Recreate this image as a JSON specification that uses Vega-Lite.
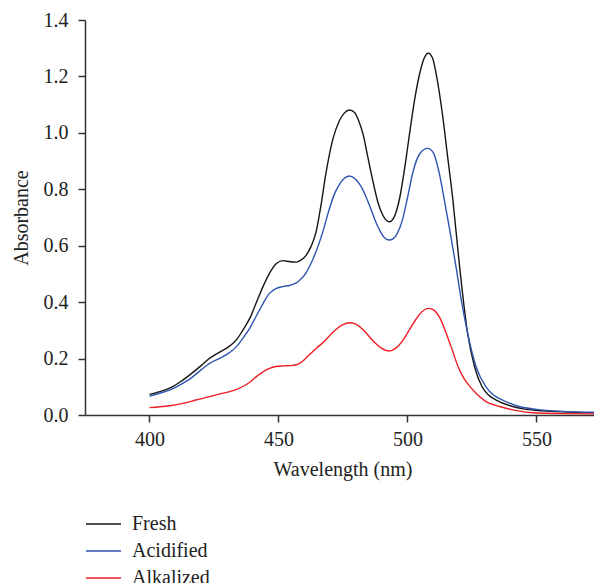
{
  "$schema": "https://vega.github.io/schema/vega-lite/v6.json",
  "width": 509,
  "height": 395,
  "autosize": "none",
  "padding": {"left": 85, "top": 20, "right": 0, "bottom": 168},
  "background": "white",
  "datasets": {
    "spectra": [
      {"s": "Fresh", "w": 400, "a": 0.073},
      {"s": "Fresh", "w": 404, "a": 0.083},
      {"s": "Fresh", "w": 408, "a": 0.096},
      {"s": "Fresh", "w": 412, "a": 0.118},
      {"s": "Fresh", "w": 416, "a": 0.145},
      {"s": "Fresh", "w": 420, "a": 0.175},
      {"s": "Fresh", "w": 423.3, "a": 0.201},
      {"s": "Fresh", "w": 427, "a": 0.222},
      {"s": "Fresh", "w": 431, "a": 0.244},
      {"s": "Fresh", "w": 434, "a": 0.27},
      {"s": "Fresh", "w": 436.2, "a": 0.301},
      {"s": "Fresh", "w": 439, "a": 0.345},
      {"s": "Fresh", "w": 441.3, "a": 0.396},
      {"s": "Fresh", "w": 444, "a": 0.455},
      {"s": "Fresh", "w": 446.5, "a": 0.502},
      {"s": "Fresh", "w": 449, "a": 0.535},
      {"s": "Fresh", "w": 451.7, "a": 0.547},
      {"s": "Fresh", "w": 454.5, "a": 0.543},
      {"s": "Fresh", "w": 456.9, "a": 0.542},
      {"s": "Fresh", "w": 458.5, "a": 0.548},
      {"s": "Fresh", "w": 460.7, "a": 0.566},
      {"s": "Fresh", "w": 462.5, "a": 0.595},
      {"s": "Fresh", "w": 464.6, "a": 0.65},
      {"s": "Fresh", "w": 466.5, "a": 0.745},
      {"s": "Fresh", "w": 468.4, "a": 0.857},
      {"s": "Fresh", "w": 471, "a": 0.975},
      {"s": "Fresh", "w": 473.6, "a": 1.043},
      {"s": "Fresh", "w": 475.5, "a": 1.07},
      {"s": "Fresh", "w": 477.5, "a": 1.081},
      {"s": "Fresh", "w": 479.5, "a": 1.072},
      {"s": "Fresh", "w": 481, "a": 1.045},
      {"s": "Fresh", "w": 482.7, "a": 0.998},
      {"s": "Fresh", "w": 484.5, "a": 0.92},
      {"s": "Fresh", "w": 486.5, "a": 0.833},
      {"s": "Fresh", "w": 488.5, "a": 0.755},
      {"s": "Fresh", "w": 490.5, "a": 0.707},
      {"s": "Fresh", "w": 493, "a": 0.685},
      {"s": "Fresh", "w": 495, "a": 0.705},
      {"s": "Fresh", "w": 497, "a": 0.77},
      {"s": "Fresh", "w": 499, "a": 0.88},
      {"s": "Fresh", "w": 501, "a": 1.01},
      {"s": "Fresh", "w": 503, "a": 1.13},
      {"s": "Fresh", "w": 505, "a": 1.22},
      {"s": "Fresh", "w": 506.5, "a": 1.265},
      {"s": "Fresh", "w": 508.1, "a": 1.282},
      {"s": "Fresh", "w": 509.7, "a": 1.265},
      {"s": "Fresh", "w": 511.5, "a": 1.19},
      {"s": "Fresh", "w": 513.5, "a": 1.07},
      {"s": "Fresh", "w": 515.5, "a": 0.92},
      {"s": "Fresh", "w": 517.6, "a": 0.762},
      {"s": "Fresh", "w": 520.2, "a": 0.526},
      {"s": "Fresh", "w": 523.3, "a": 0.29},
      {"s": "Fresh", "w": 526, "a": 0.171},
      {"s": "Fresh", "w": 528.9, "a": 0.1},
      {"s": "Fresh", "w": 531.5, "a": 0.07},
      {"s": "Fresh", "w": 534.4, "a": 0.053},
      {"s": "Fresh", "w": 540.8, "a": 0.03},
      {"s": "Fresh", "w": 546, "a": 0.02},
      {"s": "Fresh", "w": 552, "a": 0.015},
      {"s": "Fresh", "w": 560, "a": 0.011},
      {"s": "Fresh", "w": 572.3, "a": 0.008},

      {"s": "Acidified", "w": 400, "a": 0.067},
      {"s": "Acidified", "w": 404, "a": 0.077},
      {"s": "Acidified", "w": 408, "a": 0.089},
      {"s": "Acidified", "w": 412.9, "a": 0.112},
      {"s": "Acidified", "w": 416, "a": 0.13},
      {"s": "Acidified", "w": 420, "a": 0.16},
      {"s": "Acidified", "w": 423.3, "a": 0.183},
      {"s": "Acidified", "w": 427, "a": 0.2},
      {"s": "Acidified", "w": 431, "a": 0.221},
      {"s": "Acidified", "w": 434, "a": 0.245},
      {"s": "Acidified", "w": 436.2, "a": 0.272},
      {"s": "Acidified", "w": 439, "a": 0.31},
      {"s": "Acidified", "w": 441.3, "a": 0.349},
      {"s": "Acidified", "w": 444, "a": 0.395},
      {"s": "Acidified", "w": 446.5, "a": 0.431},
      {"s": "Acidified", "w": 449, "a": 0.448},
      {"s": "Acidified", "w": 451.7, "a": 0.455},
      {"s": "Acidified", "w": 454.5, "a": 0.46},
      {"s": "Acidified", "w": 456.9, "a": 0.468},
      {"s": "Acidified", "w": 458.5, "a": 0.48},
      {"s": "Acidified", "w": 460.7, "a": 0.504},
      {"s": "Acidified", "w": 462.5, "a": 0.535},
      {"s": "Acidified", "w": 464.6, "a": 0.58},
      {"s": "Acidified", "w": 467.2, "a": 0.65},
      {"s": "Acidified", "w": 469.8, "a": 0.733},
      {"s": "Acidified", "w": 472, "a": 0.79},
      {"s": "Acidified", "w": 473.5, "a": 0.815},
      {"s": "Acidified", "w": 475.3, "a": 0.837},
      {"s": "Acidified", "w": 477.5, "a": 0.847},
      {"s": "Acidified", "w": 480, "a": 0.835},
      {"s": "Acidified", "w": 482, "a": 0.81},
      {"s": "Acidified", "w": 484, "a": 0.772},
      {"s": "Acidified", "w": 486, "a": 0.725},
      {"s": "Acidified", "w": 487.8, "a": 0.682},
      {"s": "Acidified", "w": 489.5, "a": 0.65},
      {"s": "Acidified", "w": 491, "a": 0.629},
      {"s": "Acidified", "w": 492.8, "a": 0.62},
      {"s": "Acidified", "w": 494.5, "a": 0.625},
      {"s": "Acidified", "w": 496, "a": 0.643},
      {"s": "Acidified", "w": 498, "a": 0.69},
      {"s": "Acidified", "w": 500, "a": 0.77},
      {"s": "Acidified", "w": 502, "a": 0.857},
      {"s": "Acidified", "w": 504.7, "a": 0.925},
      {"s": "Acidified", "w": 507.8, "a": 0.945},
      {"s": "Acidified", "w": 510, "a": 0.93},
      {"s": "Acidified", "w": 512, "a": 0.87},
      {"s": "Acidified", "w": 514.3, "a": 0.762},
      {"s": "Acidified", "w": 516.5, "a": 0.65},
      {"s": "Acidified", "w": 518.8, "a": 0.526},
      {"s": "Acidified", "w": 521, "a": 0.4},
      {"s": "Acidified", "w": 523.3, "a": 0.29},
      {"s": "Acidified", "w": 526.6, "a": 0.171},
      {"s": "Acidified", "w": 530.4, "a": 0.1},
      {"s": "Acidified", "w": 533.5, "a": 0.07},
      {"s": "Acidified", "w": 536.9, "a": 0.053},
      {"s": "Acidified", "w": 543.4, "a": 0.03},
      {"s": "Acidified", "w": 550, "a": 0.02},
      {"s": "Acidified", "w": 560, "a": 0.013},
      {"s": "Acidified", "w": 572.3, "a": 0.01},

      {"s": "Alkalized", "w": 400, "a": 0.026},
      {"s": "Alkalized", "w": 404, "a": 0.029},
      {"s": "Alkalized", "w": 407.8, "a": 0.033},
      {"s": "Alkalized", "w": 412.9, "a": 0.041},
      {"s": "Alkalized", "w": 418, "a": 0.053},
      {"s": "Alkalized", "w": 423.3, "a": 0.065},
      {"s": "Alkalized", "w": 427, "a": 0.074},
      {"s": "Alkalized", "w": 431, "a": 0.083},
      {"s": "Alkalized", "w": 434, "a": 0.092},
      {"s": "Alkalized", "w": 436.2, "a": 0.101},
      {"s": "Alkalized", "w": 439, "a": 0.117},
      {"s": "Alkalized", "w": 441.3, "a": 0.135},
      {"s": "Alkalized", "w": 444, "a": 0.153},
      {"s": "Alkalized", "w": 446.5, "a": 0.165},
      {"s": "Alkalized", "w": 449, "a": 0.172},
      {"s": "Alkalized", "w": 451.7, "a": 0.174},
      {"s": "Alkalized", "w": 454.5, "a": 0.175},
      {"s": "Alkalized", "w": 456.9, "a": 0.178},
      {"s": "Alkalized", "w": 458.5, "a": 0.185},
      {"s": "Alkalized", "w": 460.7, "a": 0.202},
      {"s": "Alkalized", "w": 462.5, "a": 0.218},
      {"s": "Alkalized", "w": 464.6, "a": 0.236},
      {"s": "Alkalized", "w": 467.5, "a": 0.259},
      {"s": "Alkalized", "w": 470, "a": 0.283},
      {"s": "Alkalized", "w": 472.5, "a": 0.305},
      {"s": "Alkalized", "w": 475, "a": 0.32},
      {"s": "Alkalized", "w": 477.5, "a": 0.327},
      {"s": "Alkalized", "w": 480, "a": 0.322},
      {"s": "Alkalized", "w": 482.5, "a": 0.305},
      {"s": "Alkalized", "w": 485, "a": 0.28},
      {"s": "Alkalized", "w": 487.5, "a": 0.255},
      {"s": "Alkalized", "w": 490, "a": 0.236},
      {"s": "Alkalized", "w": 492.8, "a": 0.227},
      {"s": "Alkalized", "w": 495.5, "a": 0.237},
      {"s": "Alkalized", "w": 498, "a": 0.262},
      {"s": "Alkalized", "w": 500.5, "a": 0.298},
      {"s": "Alkalized", "w": 503, "a": 0.335},
      {"s": "Alkalized", "w": 505.5, "a": 0.365},
      {"s": "Alkalized", "w": 508.3, "a": 0.378},
      {"s": "Alkalized", "w": 510.5, "a": 0.37},
      {"s": "Alkalized", "w": 512.5, "a": 0.345},
      {"s": "Alkalized", "w": 515, "a": 0.29},
      {"s": "Alkalized", "w": 517.6, "a": 0.224},
      {"s": "Alkalized", "w": 519.5, "a": 0.174},
      {"s": "Alkalized", "w": 522, "a": 0.128},
      {"s": "Alkalized", "w": 524.5, "a": 0.098},
      {"s": "Alkalized", "w": 526.6, "a": 0.077},
      {"s": "Alkalized", "w": 530, "a": 0.05},
      {"s": "Alkalized", "w": 535.7, "a": 0.03},
      {"s": "Alkalized", "w": 540, "a": 0.02},
      {"s": "Alkalized", "w": 548.6, "a": 0.008},
      {"s": "Alkalized", "w": 560, "a": 0.005},
      {"s": "Alkalized", "w": 572.3, "a": 0.004}
    ]
  },
  "data": {"name": "spectra"},
  "mark": {"type": "line", "interpolate": "monotone", "strokeWidth": 1.4},
  "encoding": {
    "x": {
      "field": "w",
      "type": "quantitative",
      "scale": {"domain": [375, 572.3], "nice": false, "zero": false},
      "axis": {
        "values": [400, 450, 500, 550],
        "grid": false,
        "tickSize": 7,
        "tickWidth": 1.5,
        "tickColor": "#333333",
        "domainColor": "#333333",
        "domainWidth": 1.5,
        "labelPadding": 7,
        "labelFont": "Liberation Serif",
        "labelFontSize": 20,
        "labelColor": "#222222",
        "title": "Wavelength (nm)",
        "titleFont": "Liberation Serif",
        "titleFontSize": 20,
        "titleFontWeight": "normal",
        "titleColor": "#222222",
        "titlePadding": 10,
        "titleX": 257.5
      }
    },
    "y": {
      "field": "a",
      "type": "quantitative",
      "scale": {"domain": [0, 1.4], "nice": false},
      "axis": {
        "values": [0, 0.2, 0.4, 0.6, 0.8, 1.0, 1.2, 1.4],
        "format": ".1f",
        "grid": false,
        "tickSize": 7,
        "tickWidth": 1.5,
        "tickColor": "#333333",
        "domainColor": "#333333",
        "domainWidth": 1.5,
        "labelPadding": 10,
        "labelFont": "Liberation Serif",
        "labelFontSize": 20,
        "labelColor": "#222222",
        "title": "Absorbance",
        "titleFont": "Liberation Serif",
        "titleFontSize": 20,
        "titleFontWeight": "normal",
        "titleColor": "#222222",
        "titlePadding": 12
      }
    },
    "color": {
      "field": "s",
      "type": "nominal",
      "scale": {"domain": ["Fresh", "Acidified", "Alkalized"], "range": ["#151515", "#2f55b0", "#ee1d25"]},
      "legend": {
        "orient": "none",
        "legendX": 0,
        "legendY": 490.5,
        "title": null,
        "symbolType": "stroke",
        "symbolSize": 1225,
        "symbolStrokeWidth": 1.4,
        "labelFont": "Liberation Serif",
        "labelFontSize": 20,
        "labelColor": "#222222",
        "labelOffset": 10,
        "clipHeight": 27,
        "rowPadding": 0,
        "padding": 0
      }
    }
  },
  "config": {
    "view": {"stroke": null}
  }
}
